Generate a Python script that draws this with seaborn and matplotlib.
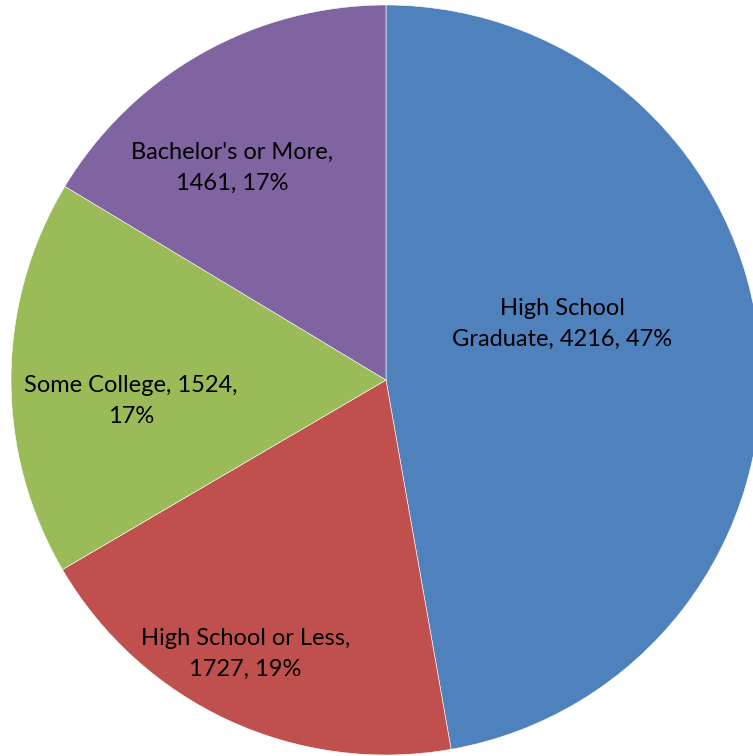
import matplotlib
matplotlib.use('Agg')
import matplotlib.pyplot as plt
import seaborn as sns

sns.set_theme(style='white')
plt.rcParams['font.family'] = ['Lato', 'DejaVu Sans']

# Datos
categorias = ['High School\nGraduate', 'High School or Less', 'Some College', "Bachelor's or More"]
valores = [4216, 1727, 1524, 1461]
porcentajes = ['47%', '19%', '17%', '17%']
colores = ['#4F81BD', '#C0504D', '#9BBB59', '#8064A2']

etiquetas = [
    'High School\nGraduate, 4216, 47%',
    'High School or Less,\n1727, 19%',
    'Some College, 1524,\n17%',
    "Bachelor's or More,\n1461, 17%",
]
# posiciones de las etiquetas (como en Excel)
pos_etiquetas = [(0.47, 0.15), (-0.375, -0.73), (-0.68, -0.055), (-0.41, 0.565)]

fig = plt.figure(figsize=(7.53, 7.56), dpi=100)
r_px = 375
cx, cy = 386, 756 - 380
ax = fig.add_axes([(cx - r_px) / 753, (cy - r_px) / 756, 2 * r_px / 753, 2 * r_px / 756])

wedges, textos = ax.pie(valores, colors=colores, startangle=90, counterclock=False,
                        radius=1, labels=etiquetas, labeldistance=0.5,
                        wedgeprops={'edgecolor': 'white', 'linewidth': 0.4})
for t, p in zip(textos, pos_etiquetas):
    t.set_position(p)
    t.set_ha('center')
    t.set_va('center')
    t.set_fontsize(17)
    t.set_color('black')
    t.set_linespacing(1.6)

ax.set_xlim(-1, 1)
ax.set_ylim(-1, 1)
ax.set_aspect('equal')
ax.axis('off')

plt.savefig('out.png', dpi=100)
